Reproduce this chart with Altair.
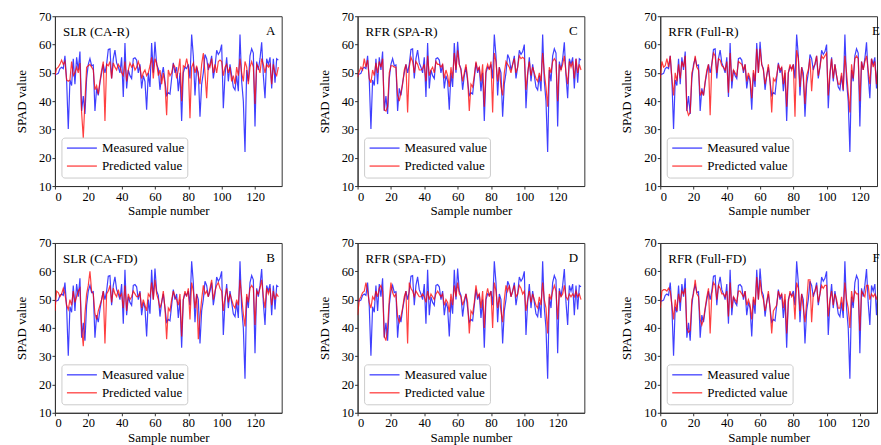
import altair as alt
import pandas as pd

FONT = "Liberation Serif"

sample = list(range(135))

measured = [
    49.5, 49.5, 49.8, 51.5, 52, 51.5, 56, 47.5, 30.2, 47.5,
    45.5, 55, 46, 55.5, 51, 57.5, 36.5, 41.8, 35.5, 48,
    53, 55, 52.5, 52.8, 36.5, 44.5, 42, 46.5, 50, 53,
    50, 53, 58.3, 58.5, 48, 55, 58, 53.5, 52, 50,
    55.5, 41.5, 60.5, 44.5, 51, 49, 48, 55, 55.3, 54.5,
    50, 53, 44.5, 49, 47, 37, 50, 45, 60.5, 50,
    61, 53, 51.5, 44, 49, 52, 47, 42, 43, 42.5,
    48, 53.5, 50, 52, 43.5, 50, 33, 50, 52, 51.5,
    53, 48, 63.5, 56, 42, 52, 50, 34.5, 46, 50,
    56.5, 55, 51, 53, 56, 48, 52, 58, 56.5, 57.5,
    60, 37.5, 49, 55.5, 47, 53, 49, 45, 44, 49,
    43.5, 63.5, 47, 40, 22, 51, 47, 56, 58.5, 57,
    31, 54, 51, 55, 60.8, 49, 41, 55, 53, 55.5,
    44.5, 55, 46.5, 55, 54.5,
]

pred_A = [
    49, 51.5, 52, 53, 54.5, 53, 54, 47.5, 47, 47.5,
    54, 49, 50, 52, 50, 53.5, 36, 27, 40, 52,
    52.5, 53, 52, 51, 44, 45.5, 42.5, 47, 51, 54,
    33, 53, 52.5, 54, 48, 53.5, 52, 51, 53, 52,
    50, 49, 54, 47, 51, 53.5, 52, 53, 51, 52,
    54, 52, 48, 50, 51, 49, 50, 52.5, 55.5, 48,
    55, 53.5, 49, 51, 46, 50, 46, 35, 51, 49,
    50, 53, 52, 48, 51, 55, 40, 52.5, 52, 55,
    52, 34, 52, 53.5, 50, 52.5, 49, 46, 53, 57,
    50, 41, 53, 52, 55, 50, 53, 50, 54, 54.5,
    54, 49, 52, 53, 50, 52, 47, 49, 46, 52,
    49, 55, 50, 47, 54, 52, 46, 52, 54, 52,
    39, 53, 52, 50, 55, 53, 50, 53, 52, 53,
    46, 53, 50, 49, 52,
]

pred_B = [
    46, 53, 52.5, 51, 52, 54, 52, 48, 46.5, 50,
    48, 53, 49, 51, 53, 54, 40, 33.5, 45, 52,
    55, 60, 53, 52, 45, 43, 46, 48, 50, 53,
    34.5, 52, 53, 55, 49, 54, 52, 51, 53.5, 51,
    52, 47, 55, 46, 52, 50, 51, 53, 52, 51,
    51, 52.5, 47, 50, 48, 46, 52, 51, 56, 50,
    57, 52, 50, 47, 49, 53, 47, 36, 47, 46,
    50, 53, 51, 50, 48, 52, 37, 50, 53, 51,
    54, 43, 56, 53, 47, 52, 36, 44, 50, 55,
    52, 53, 51, 54, 57, 50, 53, 55, 56, 54,
    53, 46, 51, 54, 49, 52, 50, 48, 47, 50,
    48, 57, 51, 45, 40.5, 52, 49, 54, 55, 54,
    41, 53, 52, 54, 57, 51, 47, 54, 52, 54,
    48, 53, 50, 52, 51,
]

pred_C = [
    48.5, 50.5, 52, 51, 55, 52, 54.5, 48, 46.5, 51,
    49, 53.5, 50, 54, 52, 55, 37, 36.5, 38, 50,
    52.5, 52.5, 52, 52, 42, 40, 43, 46, 51, 53,
    36, 52, 55.5, 54, 50, 54, 53, 51, 51, 51.5,
    53, 47, 56, 49, 51, 52, 50, 54, 53, 53,
    52, 53, 48, 51, 49, 45, 52, 48, 57, 51,
    58, 53, 51, 47, 50, 53, 48, 36.5, 46, 45,
    49, 54, 51, 52, 47, 53, 38, 51, 53, 51,
    54, 36, 57, 54, 47, 52, 45, 42, 50, 54,
    53, 52, 50, 53, 55, 50, 52, 56, 55, 55.5,
    55, 44, 50, 54, 49, 52, 50, 48, 47, 50,
    47, 57, 50, 45, 38, 52, 50, 54, 55, 54,
    40, 53, 51, 53, 56, 50, 46, 54, 52, 54,
    48, 55, 50, 53, 51,
]

pred_D = [
    44.5, 50, 51, 52.5, 53, 56, 53, 49, 47, 51,
    50, 53, 51, 54, 55, 53, 37, 35.5, 40, 50,
    56, 52.5, 51, 52, 44, 42, 44, 47, 51, 53,
    34.5, 56, 54, 53, 51, 53, 52, 51, 51, 52,
    51, 49, 53, 50, 52, 51, 50, 52, 53, 52,
    51, 52, 48, 50, 49, 45.5, 52, 48, 55, 51,
    56, 52, 51, 48, 50, 52, 49, 38, 46, 45,
    49, 55, 51, 52, 47, 53, 40, 51, 54, 51,
    53, 40, 56, 53, 47, 51, 46, 42, 50, 55,
    53, 55, 51, 53, 55, 51, 52, 55, 54, 52,
    53, 46, 50, 53, 49, 52, 50, 48, 47, 51,
    48, 56, 50, 47, 38, 52, 50, 53, 55, 53,
    43, 53, 51, 52, 55, 51, 50, 52, 51, 52,
    51, 53, 51, 52, 50,
]

pred_E = [
    48, 54, 52, 52.5, 55, 52, 56, 48, 42, 50,
    47, 53, 48, 54, 52, 56, 37, 35, 36, 50,
    52, 56, 52, 51, 42, 43.5, 42, 47, 51, 53,
    35, 53, 57, 56, 50, 55, 54.5, 52.5, 52, 51,
    54, 43, 57, 47, 51, 50, 49, 54, 53.5, 53,
    51, 53, 47, 50, 48, 41, 51, 47, 58.5, 50,
    58.5, 53, 51, 46, 49, 53, 47, 36, 48, 47,
    49, 53, 51, 52, 46, 51, 38, 50, 53, 51,
    53, 34.5, 58, 55, 45, 52, 48, 39, 49, 51,
    55, 43.5, 52, 53, 56, 49, 52, 56, 55, 56,
    57, 42, 50, 55, 48, 53, 49, 46, 46, 50,
    44, 56, 50, 43, 36, 53, 48, 55, 56, 55,
    40, 54, 51, 54, 56, 51, 46, 55, 52, 54,
    46, 54, 49, 55, 43,
]

pred_F = [
    47, 53, 53.5, 53.5, 53, 54, 53, 48, 43, 50,
    46, 52, 49, 53, 52, 54, 40, 38.5, 39, 50,
    52, 57, 52, 51, 43, 41, 43, 47, 51, 54,
    38, 52, 56, 55, 50, 55, 54, 52, 52, 51,
    53, 44, 56, 47, 51, 50, 49, 53, 53, 52,
    51, 53, 48, 50, 48, 43, 51, 48, 58, 50,
    57, 52, 50, 46, 49, 53, 47, 38, 46, 47,
    48, 53, 51, 52, 47, 52, 38, 49, 53, 51,
    52, 43, 56, 54, 46, 52, 47, 42, 49, 57,
    57, 42, 52, 53, 55, 49, 52, 55, 54, 55,
    55, 44, 50, 53, 48, 52, 50, 47, 47, 51,
    46, 56, 50, 47, 40, 53, 49, 53, 52, 52,
    39, 53, 52, 51, 55, 55, 50, 52, 51, 52,
    50, 53, 51, 44, 48,
]

panel_titles = ["SLR (CA-R)", "RFR (SPA-R)", "RFR (Full-R)",
                "SLR (CA-FD)", "RFR (SPA-FD)", "RFR (Full-FD)"]
panel_letters = ["A", "C", "E", "B", "D", "F"]
panel_preds = [pred_A, pred_C, pred_E, pred_B, pred_D, pred_F]
series_names = ["Measured value", "Predicted value"]
series_colors = ["#0000ff", "#ff0000"]
x_ticks = [0, 20, 40, 60, 80, 100, 120]
y_ticks = [10, 20, 30, 40, 50, 60, 70]

color_scale = alt.Scale(domain=series_names, range=series_colors)


def panel(i, width, xmax, height):
    df_m = pd.DataFrame({"sample": sample, "value": measured, "series": series_names[0]})
    df_p = pd.DataFrame({"sample": sample, "value": panel_preds[i], "series": series_names[1]})
    x = alt.X("sample:Q",
              scale=alt.Scale(domain=[0, xmax], nice=False, zero=False),
              axis=alt.Axis(values=x_ticks, title="Sample number"))
    y = alt.Y("value:Q",
              scale=alt.Scale(domain=[10, 70], nice=False, zero=False),
              axis=alt.Axis(values=y_ticks, title="SPAD value"))
    color = alt.Color("series:N", scale=color_scale, legend=None)
    lm = alt.Chart(df_m).mark_line(strokeWidth=1.2, opacity=0.75, clip=True).encode(
        x=x, y=y, color=color)
    lp = alt.Chart(df_p).mark_line(strokeWidth=1.2, opacity=0.75, clip=True).encode(
        x=x, y=y, color=color)
    t = alt.Chart(pd.DataFrame({"t": [panel_titles[i]]})).mark_text(
        align="left", baseline="middle", font=FONT, fontSize=13, color="black").encode(
        x=alt.value(8), y=alt.value(16), text="t:N")
    lt = alt.Chart(pd.DataFrame({"t": [panel_letters[i]]})).mark_text(
        align="center", baseline="middle", font=FONT, fontSize=13, color="black").encode(
        x=alt.value(216), y=alt.value(15), text="t:N")
    # legend box (decoration, drawn in pixel space)
    box = alt.Chart(pd.DataFrame({"b": [0]})).mark_rect(
        fill="white", fillOpacity=0.8, stroke="#cccccc", strokeWidth=1,
        cornerRadius=3).encode(
        x=alt.value(7), x2=alt.value(133),
        y=alt.value(height - 48), y2=alt.value(height - 8))
    layers = [lm, lp, t, lt, box]
    for k, name in enumerate(series_names):
        ydef = alt.value(height - 38 + 18 * k)
        ldf = pd.DataFrame({"series": [name]})
        layers.append(alt.Chart(ldf).mark_rule(strokeWidth=1.3, opacity=0.75).encode(
            x=alt.value(12), x2=alt.value(42), y=ydef,
            color=alt.Color("series:N", scale=color_scale, legend=None)))
        layers.append(alt.Chart(ldf).mark_text(
            align="left", baseline="middle", font=FONT, fontSize=13, color="black").encode(
            x=alt.value(47), y=ydef, text="series:N"))
    return alt.layer(*layers).properties(width=width, height=height)


W = 227
XMAX = 136
W3 = 217
XMAX3 = 130.3
H = 170

panels = [
    panel(0, W, XMAX, H), panel(1, W, XMAX, H), panel(2, W3, XMAX3, H),
    panel(3, W, XMAX, H), panel(4, W, XMAX, H), panel(5, W3, XMAX3, H),
]

chart = alt.concat(
    *panels, columns=3, spacing={"row": 57, "column": 76}, bounds="flush"
).properties(
    padding={"left": 15, "top": 9, "right": 0, "bottom": 0}
).configure_view(
    stroke="#333333", strokeWidth=1
).configure_axis(
    labelFont=FONT, titleFont=FONT, labelFontSize=12.5, titleFontSize=13,
    labelColor="black", titleColor="black", titleFontWeight="normal",
    domainColor="#333333", tickColor="#333333", tickSize=3, grid=False
).configure_axisX(
    titlePadding=2, labelPadding=1
).configure_axisY(
    titlePadding=10, labelPadding=1
)

chart.save("out.html", embed_options={"renderer": "svg", "actions": False})
